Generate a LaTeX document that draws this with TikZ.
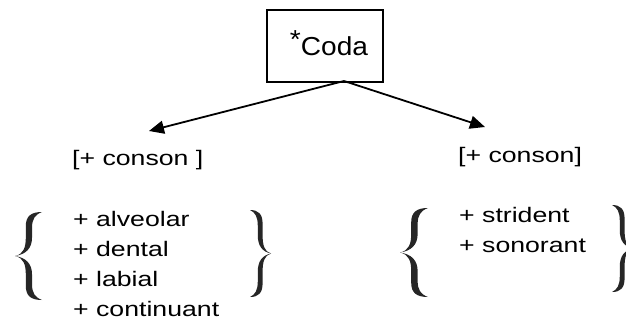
\documentclass[tikz,border=0pt]{standalone}
\usepackage{fontspec}
\setmainfont{Liberation Sans}[FakeStretch=1.27]
\newfontfamily\titlefont{Liberation Sans}[FakeStretch=1.08]
\usetikzlibrary{arrows.meta}
\begin{document}
\begin{tikzpicture}[x=1pt,y=-1pt,
  lbl/.style={anchor=base west, inner sep=0pt, font=\fontsize{21pt}{30pt}\selectfont},
  link/.style={line width=1.8pt, -{Triangle[length=15pt,width=13pt]}},
  frame/.style={draw, line width=1.8pt, minimum width=116pt, minimum height=72pt,
    inner sep=0pt, font=\titlefont\fontsize{26pt}{30pt}\selectfont},
  % curly brace drawn as a filled outline; the origin is its middle point,
  % the arms reach x = 1 and y = +-0.5 (scale it to size)
  curly/.pic={
    \foreach \s in {1,-1}{
      \fill[black!85, yscale=\s]
        (0,0) .. controls (0.32,-0.02) and (0.40,-0.10) .. (0.40,-0.21)
        -- (0.40,-0.34) .. controls (0.40,-0.45) and (0.58,-0.50) .. (1,-0.50)
        .. controls (0.74,-0.47) and (0.63,-0.42) .. (0.63,-0.32)
        -- (0.63,-0.21) .. controls (0.63,-0.09) and (0.42,-0.02) .. (0,0) -- cycle;
    }
  }]
  \useasboundingbox (0,0) rectangle (626,325);

  % root box
  \node[frame] (box) at (325,46) {\hspace*{8pt}\smash{\raisebox{7pt}{*}}Coda};
  \coordinate (fork) at (344,81);
  \coordinate (lend) at (149,131);
  \coordinate (rend) at (485,127);

  % left branch
  \node[lbl] (lcon) at (72,165) {[+ conson ]};
  \node[lbl] (la) at (73,226) {+ alveolar};
  \node[lbl] (ld) at (73,256) {+ dental};
  \node[lbl] (ll) at (73,286) {+ labial};
  \node[lbl] (lc) at (73,316) {+ continuant};
  \pic (lbo) [xscale=27, yscale=88] at (15,256) {curly};
  \pic (lbc) [xscale=-21, yscale=87] at (271,253.5) {curly};

  % right branch
  \node[lbl] (rcon) at (458,162) {[+ conson]};
  \node[lbl] (rs) at (459,222) {+ strident};
  \node[lbl] (rn) at (459,252) {+ sonorant};
  \pic (rbo) [xscale=28, yscale=89] at (400,252.5) {curly};
  \pic (rbc) [xscale=-21, yscale=87] at (633,248.5) {curly};

  % connectors
  \draw[link] (fork) -- (lend);
  \draw[link] (fork) -- (rend);
\end{tikzpicture}
\end{document}
